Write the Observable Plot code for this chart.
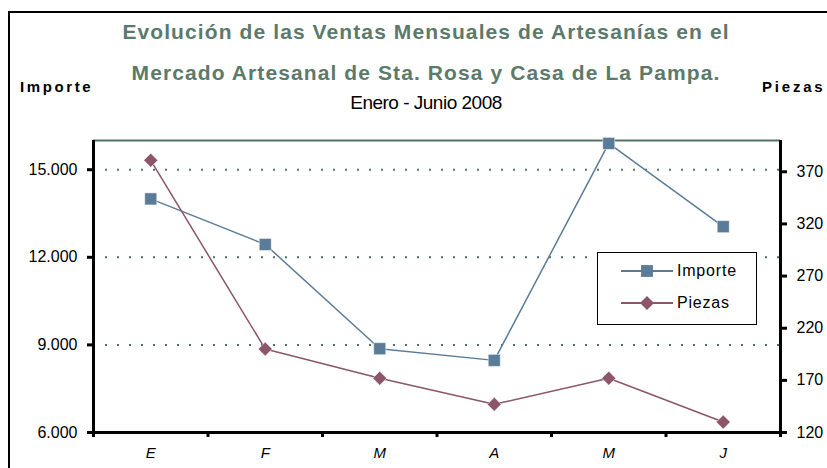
<!DOCTYPE html>
<html>
<head>
<meta charset="utf-8">
<script src="https://cdn.jsdelivr.net/npm/d3@7"></script>
<script src="https://cdn.jsdelivr.net/npm/@observablehq/plot@0.6"></script>
<style>
  html, body { margin:0; padding:0; background:#fff; }
  #wrap { position:relative; width:827px; height:468px; overflow:hidden; font-family:"Liberation Sans", Arial, sans-serif; }
  #frame { position:absolute; left:8px; top:11px; width:900px; height:600px; border-left:2px solid #000; border-top:2px solid #000; }
  .t { position:absolute; white-space:nowrap; }
  #title1, #title2 { left:0; width:852px; text-align:center; font-weight:bold; font-size:21px; color:#5b7a6b; letter-spacing:1.1px; }
  #title1 { top:20px; }
  #title2 { top:61px; }
  #sub { left:0; width:852px; text-align:center; top:92px; font-size:19px; letter-spacing:-0.5px; }
  #yl { left:20px; top:78px; font-weight:bold; font-size:15px; letter-spacing:2.6px; }
  #yr { left:762px; top:78px; font-weight:bold; font-size:15px; letter-spacing:2.8px; }
  #plot { position:absolute; left:0; top:0; }
  #legend { position:absolute; left:597px; top:252px; width:160px; height:73px; border:1px solid #000; background:#fff; box-sizing:border-box; }
  .li { position:absolute; left:22px; font-size:16px; letter-spacing:0.8px; display:flex; align-items:center; }
  .li svg { margin-right:3px; }
</style>
</head>
<body>
<div id="wrap">
  <div id="frame"></div>
  <div id="plot"></div>
  <div class="t" id="title1">Evolución de las Ventas Mensuales de Artesanías en el</div>
  <div class="t" id="title2">Mercado Artesanal de Sta. Rosa y Casa de La Pampa.</div>
  <div class="t" id="sub">Enero - Junio 2008</div>
  <div class="t" id="yl">Importe</div>
  <div class="t" id="yr">Piezas</div>
  <div id="legend"></div>
</div>
<script>
const months = ["E", "F", "M", "A", "M", "J"];
const importe = [14000, 12440, 8870, 8470, 15900, 13050];
const piezas = [381, 200, 172, 147, 172, 130];
const leftTicks = [6000, 9000, 12000, 15000];
const rightTicks = [120, 170, 220, 270, 320, 370];
const gridValues = [9000, 12000, 15000];
const yDomain = [6000, 16000];
const rightDomain = [120, 400];
const seriesNames = ["Importe", "Piezas"];
const colors = ["#5b7c98", "#8c5569"];

const toLeft = p => yDomain[0] + (p - rightDomain[0]) * (yDomain[1] - yDomain[0]) / (rightDomain[1] - rightDomain[0]);
const fromLeft = v => rightDomain[0] + (v - yDomain[0]) * (rightDomain[1] - rightDomain[0]) / (yDomain[1] - yDomain[0]);
const fmt = d3.formatLocale({decimal: ",", thousands: ".", grouping: [3], currency: ["$", ""]}).format(",");

const data = months.map((m, i) => ({i, m, importe: importe[i], piezas: piezas[i], pz: toLeft(piezas[i])}));
const xpos = d => d.i + 0.5;

const chart = Plot.plot({
  width: 827,
  height: 468,
  marginTop: 140,
  marginBottom: 36,
  marginLeft: 93,
  marginRight: 47,
  x: {type: "linear", domain: [0, months.length]},
  y: {domain: yDomain},
  style: {fontFamily: "'Liberation Sans', Arial, sans-serif", fontSize: "16px", color: "#000", background: "transparent"},
  marks: [
    Plot.ruleY(gridValues, {stroke: "#4f7566", strokeWidth: 2, strokeDasharray: "2,10"}),
    Plot.ruleY([yDomain[1]], {stroke: "#4f7566", strokeWidth: 2}),
    Plot.line(data, {x: xpos, y: "importe", stroke: colors[0], strokeWidth: 1.5}),
    Plot.line(data, {x: xpos, y: "pz", stroke: colors[1], strokeWidth: 1.5}),
    Plot.dot(data, {x: xpos, y: "importe", symbol: "square", r: 6.8, fill: colors[0], stroke: "#fff", strokeWidth: 0.5}),
    Plot.dot(data, {x: xpos, y: "pz", symbol: "diamond2", r: 6.3, fill: colors[1], stroke: "#fff", strokeWidth: 0.5}),
    Plot.axisY(leftTicks, {anchor: "left", tickSize: 6, tickPadding: 10, strokeWidth: 3, tickFormat: fmt, label: null}),
    Plot.axisY(rightTicks.map(toLeft), {anchor: "right", tickSize: 6, tickPadding: 10, strokeWidth: 3, tickFormat: d => String(Math.round(fromLeft(d))), label: null}),
    Plot.axisX(d3.range(months.length + 1), {tickSize: 5, strokeWidth: 3, tickFormat: () => "", label: null}),
    Plot.text(data, {x: xpos, y: yDomain[0], text: "m", dy: 21, fontStyle: "italic", fontSize: 15}),
    Plot.ruleX([0, months.length], {stroke: "#000", strokeWidth: 3}),
    Plot.ruleY([yDomain[0]], {stroke: "#000", strokeWidth: 3})
  ]
});
document.getElementById("plot").appendChild(chart);

// legend
const legend = document.getElementById("legend");
const symbols = [d3.symbolSquare, d3.symbolDiamond2];
seriesNames.forEach((name, k) => {
  const row = document.createElement("div");
  row.className = "li";
  row.style.top = (k === 0 ? 5 : 37) + "px";
  const s = d3.create("svg").attr("width", 54).attr("height", 26);
  s.append("line").attr("x1", 1).attr("x2", 53).attr("y1", 13).attr("y2", 13).attr("stroke", colors[k]).attr("stroke-width", 2);
  s.append("path").attr("transform", "translate(27,13)").attr("d", d3.symbol(symbols[k], k === 0 ? 140 : 125)()).attr("fill", colors[k]);
  row.appendChild(s.node());
  const t = document.createElement("span");
  t.textContent = name;
  row.appendChild(t);
  legend.appendChild(row);
});
</script>
</body>
</html>
